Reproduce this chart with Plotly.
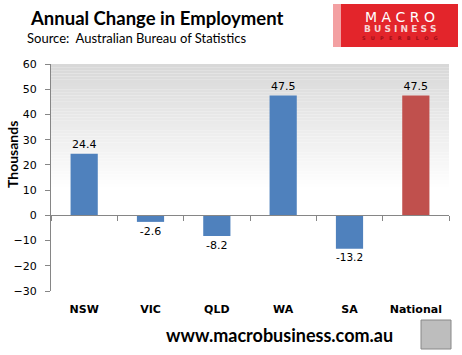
import plotly.graph_objects as go

categories = ["NSW", "VIC", "QLD", "WA", "SA", "National"]
values = [24.4, -2.6, -8.2, 47.5, -13.2, 47.5]
colors = ["#4F81BD"] * 5 + ["#C0504D"]
y_ticks = [-30, -20, -10, 0, 10, 20, 30, 40, 50, 60]

L, R, T, B = 51, 449, 64, 291
PW, PH = R - L, B - T


def px(x):
    return (x - L) / PW


def py(y):
    return (B - y) / PH


def spaced(s, n=1):
    return ("\u00a0" * n).join(s)


fig = go.Figure()
fig.add_trace(go.Bar(
    x=categories, y=values, marker_color=colors, marker_line_width=0,
    text=[f"{v:.1f}" for v in values], textposition="outside",
    textfont=dict(family="DejaVu Sans", size=11, color="#000"),
    cliponaxis=False, showlegend=False, xaxis="x", yaxis="y",
))
# invisible trace for bottom category labels
fig.add_trace(go.Bar(x=categories, y=[0] * len(categories), xaxis="x2", yaxis="y",
                     showlegend=False, hoverinfo="skip", marker_opacity=0))

# gradient background (plot area, top part)
n = 40
ys = [60 - i * (60 - 10) / n for i in range(n + 1)]
for i in range(n):
    t = i / (n - 1)
    c = int(216 + (255 - 216) * t)
    fig.add_shape(type="rect", xref="paper", yref="y", x0=0, x1=1, y0=ys[i + 1], y1=ys[i],
                  fillcolor=f"rgb({c},{c},{c})", line_width=0, layer="below")

fig.update_layout(
    width=462, height=355,
    margin=dict(l=L, r=462 - R, t=T, b=355 - B, autoexpand=False),
    paper_bgcolor="white", plot_bgcolor="white",
    bargap=0.59,
    font=dict(family="DejaVu Sans", color="#000"),
    xaxis=dict(type="category", anchor="free", position=1/3, showline=True, linecolor="#868686",
               linewidth=1, ticks="outside", ticklen=5, tickcolor="#868686", tickson="boundaries",
               showticklabels=False, showgrid=False, zeroline=False, automargin=False),
    xaxis2=dict(type="category", overlaying="x", anchor="y", side="bottom", showline=False,
                ticks="", showgrid=False, zeroline=False, matches="x", automargin=False,
                ticklabelstandoff=10,
                tickfont=dict(family="DejaVu Sans", size=11, color="#000", weight="bold")),
    yaxis=dict(range=[-30, 60], tickvals=y_ticks, showline=True, linecolor="#868686", linewidth=1,
               ticks="outside", ticklen=5, tickcolor="#868686", showgrid=False, zeroline=False,
               automargin=False, ticklabelstandoff=6,
               tickfont=dict(family="DejaVu Sans", size=11, color="#000")),
)

# axis title
fig.add_annotation(text="<b>Thousands</b>", xref="paper", yref="paper", x=px(12), y=py(155),
                   textangle=-90, showarrow=False, font=dict(family="Lato", size=14, color="#000"),
                   xanchor="center", yanchor="middle")
# title & source
fig.add_annotation(text="<b>Annual Change in Employment</b>", xref="paper", yref="paper",
                   x=px(28), y=py(18), xanchor="left", yanchor="middle", showarrow=False,
                   font=dict(family="Lato", size=18.5, color="#000"))
fig.add_annotation(text="Source:  Australian Bureau of Statistics", xref="paper", yref="paper",
                   x=px(25), y=py(38), xanchor="left", yanchor="middle", showarrow=False,
                   font=dict(family="Lato", size=13, color="#000"))
# logo
fig.add_shape(type="rect", xref="paper", yref="paper", x0=px(333), x1=px(458),
              y0=py(47), y1=py(4), fillcolor="#E3252B", line_width=0)
fig.add_shape(type="rect", xref="paper", yref="paper", x0=px(333), x1=px(341),
              y0=py(47), y1=py(4), fillcolor="#f3a0a2", line_width=0)
fig.add_annotation(text=spaced("MACRO", 1), xref="paper", yref="paper", x=px(400), y=py(17),
                   showarrow=False, xanchor="center", yanchor="middle",
                   font=dict(family="DejaVu Sans", size=14, color="white"))
fig.add_annotation(text=spaced("BUSINESS", 1), xref="paper", yref="paper", x=px(400), y=py(28.5),
                   showarrow=False, xanchor="center", yanchor="middle",
                   font=dict(family="DejaVu Sans", size=9, color="#f7d5d5", weight="bold"))
fig.add_annotation(text=spaced("SUPERBLOG", 3), xref="paper", yref="paper", x=px(400), y=py(38),
                   showarrow=False, xanchor="center", yanchor="middle",
                   font=dict(family="DejaVu Sans", size=5, color="#a01018", weight="bold"))
# footer
fig.add_annotation(text="<b>www.macrobusiness.com.au</b>", xref="paper", yref="paper",
                   x=px(279), y=py(335), showarrow=False, xanchor="center", yanchor="middle",
                   font=dict(family="Lato", size=18, color="#000"))
fig.add_shape(type="rect", xref="paper", yref="paper", x0=px(421), x1=px(451),
              y0=py(349), y1=py(320), fillcolor="#bdbdbd",
              line=dict(color="#888", width=1))

fig.write_html("out.html", config={"displayModeBar": False},
               post_script="document.body.style.margin='0';")
